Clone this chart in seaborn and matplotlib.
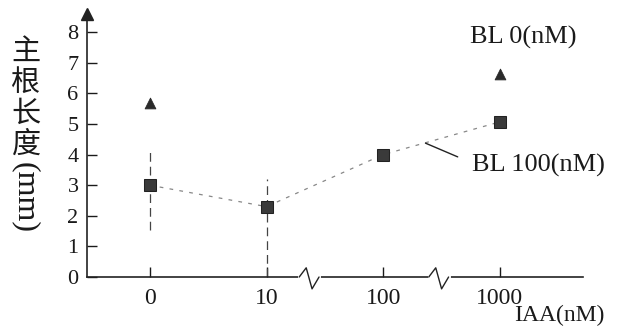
import numpy as np
import pandas as pd
import seaborn as sns
import matplotlib.pyplot as plt
import matplotlib.transforms as mtransforms

# data
iaa_labels = ['0', '10', '100', '1000']
bl100_len = [3.0, 2.3, 4.0, 5.07]
bl0_len = [5.7, np.nan, np.nan, 6.63]   # only the ends survive in the scan
bl100_err_lo = [1.45, 2.3, 0.0, 0.0]
bl100_err_hi = [1.1, 0.9, 0.0, 0.0]
yticks = [0, 1, 2, 3, 4, 5, 6, 7, 8]

sns.set_style('ticks')
plt.rcParams['font.family'] = ['Liberation Serif', 'Noto Sans CJK SC', 'DejaVu Sans']

pos = np.arange(len(iaa_labels))
df100 = pd.DataFrame({'pos': pos, 'len': bl100_len})
df0 = pd.DataFrame({'pos': pos, 'len': bl0_len})

fig = plt.figure(figsize=(6.2, 3.29), dpi=100)
ax = fig.add_axes([0.140, 0.158, 0.80, 0.80])

ax.errorbar(pos, bl100_len, yerr=[bl100_err_lo, bl100_err_hi], fmt='none',
            ecolor='#444444', elinewidth=0.9, capsize=0)
for c in ax.collections:
    c.set_linestyle((0, (7, 4)))

sns.lineplot(data=df100, x='pos', y='len', ax=ax, color='#888888', lw=0.9,
             linestyle=(0, (3, 5)), marker='s', markersize=9,
             markerfacecolor='#3a3a3a', markeredgecolor='#222222')
sns.scatterplot(data=df0.dropna(), x='pos', y='len', ax=ax, marker='^', s=60,
                color='#2a2a2a', edgecolor='#2a2a2a')

ax.set_xlim(-0.54, 3.71)
ax.set_ylim(0, 8.6)
ax.set_xticks(pos)
ax.set_xticklabels(iaa_labels)
ax.set_yticks(yticks)
ax.set_xlabel('')
ax.set_ylabel('')
ax.tick_params(axis='both', direction='in', length=7, width=1.0,
               labelsize=16, colors='#1a1a1a', pad=6)
ax.tick_params(axis='x', labelsize=17, pad=8)
sns.despine(ax=ax)
for s in ['left', 'bottom']:
    ax.spines[s].set_linewidth(1.2)
    ax.spines[s].set_color('#222222')

# arrow on the y axis
ax.plot(0, 1.0, marker='^', markersize=9, color='#222222',
        transform=ax.transAxes, clip_on=False)

# axis breaks
trans = mtransforms.blended_transform_factory(ax.transData, ax.transAxes)
for xb in [1.37, 2.48]:
    ax.plot([xb - 0.08, xb + 0.08], [0, 0], color='white', lw=3,
            transform=trans, clip_on=False, zorder=5)
    ax.plot([xb - 0.09, xb - 0.03, xb + 0.02, xb + 0.08],
            [0, 0.035, -0.045, 0], color='#222222', lw=1.0,
            transform=trans, clip_on=False, zorder=6)

# labels
ax.text(2.74, 7.84, 'BL 0(nM)', fontsize=19, ha='left', va='center', color='#1a1a1a')
ax.text(2.76, 3.66, 'BL 100(nM)', fontsize=19, ha='left', va='center', color='#1a1a1a')
ax.annotate('', xy=(2.34, 4.41), xytext=(2.66, 3.89),
            arrowprops=dict(arrowstyle='-', color='#222222', lw=1.0))
fig.text(0.975, 0.04, 'IAA(nM)', fontsize=17, ha='right', va='center', color='#1a1a1a')

for i, ch in enumerate('主根长度'):
    fig.text(0.042, 1 - (52 + i * 31) / 329, ch, fontsize=21, ha='center',
             va='center', family=['Noto Sans CJK SC'], color='#1a1a1a')
fig.text(0.040, 1 - 198 / 329, '(mm)', fontsize=23, rotation=-90, ha='center',
         va='center', color='#1a1a1a')

fig.savefig('out.png', dpi=100)
